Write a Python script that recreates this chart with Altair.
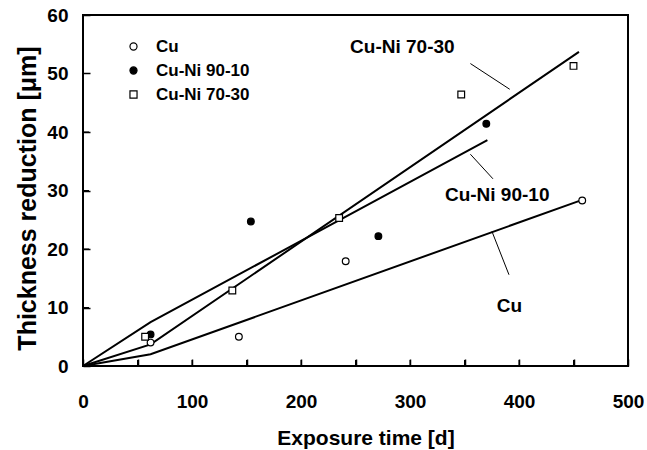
import altair as alt
import pandas as pd

# ---- data ----
series_names = ["Cu", "Cu-Ni 90-10", "Cu-Ni 70-30"]

cu_x = [62, 143, 241, 458]
cu_y = [4.0, 5.0, 17.9, 28.3]
cuni9010_x = [62, 154, 271, 370]
cuni9010_y = [5.4, 24.7, 22.2, 41.4]
cuni7030_x = [57, 137, 235, 347, 450]
cuni7030_y = [5.0, 12.9, 25.3, 46.4, 51.3]

# fitted lines (piecewise)
fit_cu_x = [0, 62, 458]
fit_cu_y = [0, 2.0, 28.4]
fit_9010_x = [0, 62, 371]
fit_9010_y = [0, 7.5, 38.6]
fit_7030_x = [0, 62, 455]
fit_7030_y = [0, 3.7, 53.7]

# annotation labels and leader lines (data coordinates)
ann_text = ["Cu-Ni 70-30", "Cu-Ni 90-10", "Cu"]
ann_x = [293.0, 380.0, 391.2]
ann_y = [54.6, 29.3, 10.3]
lead_x1 = [355.4, 355.4, 375.2]
lead_y1 = [51.7, 36.2, 23.0]
lead_x2 = [391.5, 376.1, 390.8]
lead_y2 = [47.3, 32.0, 15.6]

x_ticks = list(range(0, 501, 50))
y_ticks = list(range(0, 61, 10))

FONT = "Liberation Sans"
W, H, TICK = 545, 351, 6

pts = pd.DataFrame(
    {"x": cu_x + cuni9010_x + cuni7030_x,
     "y": cu_y + cuni9010_y + cuni7030_y,
     "series": ["Cu"] * len(cu_x) + ["Cu-Ni 90-10"] * len(cuni9010_x) + ["Cu-Ni 70-30"] * len(cuni7030_x)}
)
fits = pd.DataFrame(
    {"x": fit_cu_x + fit_9010_x + fit_7030_x,
     "y": fit_cu_y + fit_9010_y + fit_7030_y,
     "series": ["Cu"] * 3 + ["Cu-Ni 90-10"] * 3 + ["Cu-Ni 70-30"] * 3}
)
ann = pd.DataFrame({"text": ann_text, "x": ann_x, "y": ann_y})
leads = pd.DataFrame({"x": lead_x1, "y": lead_y1, "x2": lead_x2, "y2": lead_y2})
xt = pd.DataFrame({"t": x_ticks})
yt = pd.DataFrame({"t": y_ticks})

xscale = alt.Scale(domain=[0, 500], nice=False, zero=False)
yscale = alt.Scale(domain=[0, 60], nice=False, zero=False)

xaxis = alt.Axis(
    values=x_ticks, labelExpr="datum.value % 100 == 0 ? datum.label : ''",
    offset=-7, tickSize=7, tickColor="black", tickWidth=1.5, domain=False, grid=False,
    labelFont=FONT, labelFontSize=19, labelFontWeight="bold", labelColor="black",
    labelPadding=26, labelFlush=False,
    title="Exposure time [d]", titleFont=FONT, titleFontSize=21, titleFontWeight="bold",
    titleColor="black", titleBaseline="alphabetic", titleX=282.5, titleY=85,
)
yaxis = alt.Axis(
    values=y_ticks, offset=-7, tickSize=7, tickColor="black", tickWidth=1.5,
    domain=False, grid=False,
    labelFont=FONT, labelFontSize=19, labelFontWeight="bold", labelColor="black",
    labelPadding=15, labelFlush=False,
    title="Thickness reduction [μm]", titleFont=FONT, titleFontSize=25, titleFontWeight="bold",
    titleColor="black", titleBaseline="alphabetic", titleX=-55, titleY=183, titleAngle=-90,
)

legend = alt.Legend(title=None, orient="none", legendX=42, legendY=23,
                    labelFont=FONT, labelFontSize=17, labelFontWeight="bold",
                    labelColor="black", symbolSize=50, symbolStrokeWidth=1.2,
                    rowPadding=6, labelOffset=14, padding=0)

lines = alt.Chart(fits).mark_line(color="black", strokeWidth=2).encode(
    x=alt.X("x:Q", scale=xscale, axis=xaxis),
    y=alt.Y("y:Q", scale=yscale, axis=yaxis),
    detail="series:N",
)

# inward tick marks along the bottom and left frame
xtick_marks = alt.Chart(xt).mark_rule(color="black", strokeWidth=1).encode(
    x=alt.X("t:Q", scale=xscale), y=alt.value(H), y2=alt.value(H - TICK)
)
ytick_marks = alt.Chart(yt).mark_rule(color="black", strokeWidth=1).encode(
    y=alt.Y("t:Q", scale=yscale), x=alt.value(0), x2=alt.value(TICK)
)

points = alt.Chart(pts).mark_point(strokeWidth=1.2, opacity=1, filled=False).encode(
    x=alt.X("x:Q", scale=xscale),
    y=alt.Y("y:Q", scale=yscale),
    shape=alt.Shape("series:N", scale=alt.Scale(domain=series_names, range=["circle", "circle", "square"]),
                    legend=legend),
    fill=alt.Fill("series:N", scale=alt.Scale(domain=series_names, range=["white", "black", "white"]),
                  legend=legend),
    stroke=alt.Stroke("series:N", scale=alt.Scale(domain=series_names, range=["black", "black", "black"]),
                      legend=legend),
    size=alt.value(45),
)

leaders = alt.Chart(leads).mark_rule(color="black", strokeWidth=1).encode(
    x=alt.X("x:Q", scale=xscale), y=alt.Y("y:Q", scale=yscale), x2="x2:Q", y2="y2:Q"
)

labels = alt.Chart(ann).mark_text(font=FONT, fontSize=19, fontWeight="bold", color="black",
                                  align="center", baseline="middle").encode(
    x=alt.X("x:Q", scale=xscale), y=alt.Y("y:Q", scale=yscale), text="text:N"
)

chart = alt.layer(lines, xtick_marks, ytick_marks, leaders, points, labels).properties(
    width=W, height=H,
    autosize=alt.AutoSizeParams(type="none"),
    padding={"left": 83, "top": 15, "right": 19, "bottom": 84},
    background="white",
).configure_view(stroke="black", strokeWidth=2)

chart.save("out.html", embed_options={"renderer": "svg", "actions": False})
